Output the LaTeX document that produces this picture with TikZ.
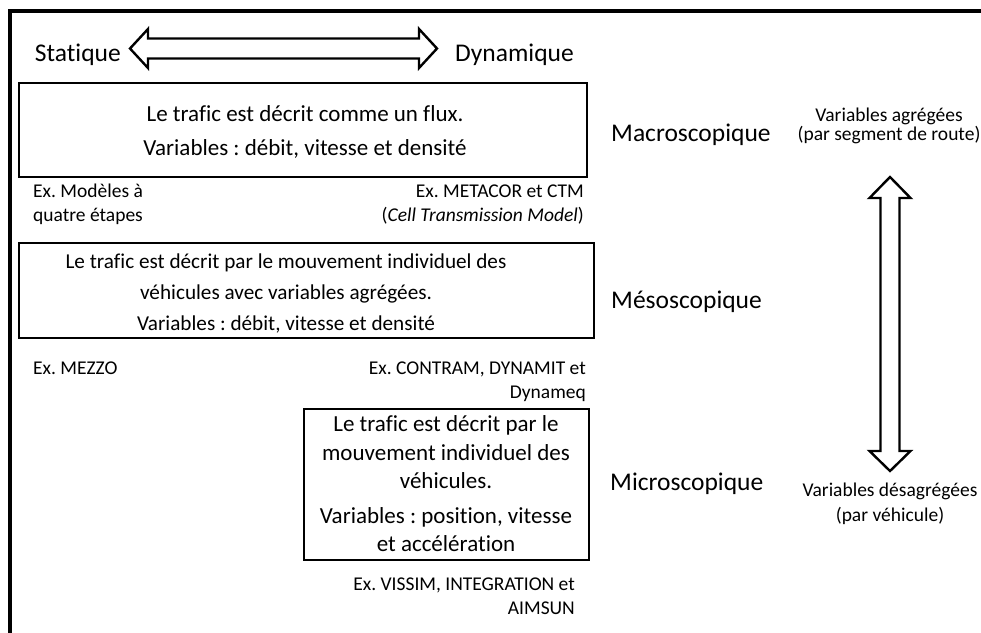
\documentclass[tikz,border=0pt]{standalone}
\usepackage{fontspec}
\setmainfont{Carlito}[Ligatures=NoCommon]
\frenchspacing
\begin{document}
\begin{tikzpicture}[x=1pt,y=-1pt,
  boxline/.style={draw, line width=2pt, inner sep=0pt},
  fatarrow/.style={draw, line width=2.4pt, fill=white, line join=miter},
  big/.style={font=\fontsize{25.5}{30}\selectfont, inner sep=0pt},
  body/.style={font=\fontsize{23}{28}\selectfont, inner sep=0pt, anchor=base},
  bodysmall/.style={font=\fontsize{21.2}{26}\selectfont, inner sep=0pt, anchor=base},
  small/.style={font=\fontsize{19.5}{24}\selectfont, inner sep=0pt},
]
\useasboundingbox (0,0) rectangle (981,632);

% outer frame (left and top edges)
\draw[line width=3.3pt] (10,640) -- (10,11) -- (990,11);

% static <-> dynamic axis
\draw[fatarrow] (130,48.5) -- (148,29) -- (148,38.5) -- (419,38.5) -- (419,29)
  -- (437,48.5) -- (419,68) -- (419,58.5) -- (148,58.5) -- (148,68) -- cycle;
\node[big, anchor=base east] (stat) at (121,61) {Statique};
\node[big, anchor=base west] (dyn) at (455,61) {Dynamique};

% macroscopic level
\node[boxline, minimum width=568, minimum height=94] (macro) at (303,130) {};
\node[body] (macroA) at (305,121) {Le trafic est décrit comme un flux.};
\node[body] (macroB) at (305,155) {Variables : débit, vitesse et densité};
\node[small, anchor=base west] (exmacroA) at (33,197) {Ex. Modèles à};
\node[small, anchor=base west] (exmacroB) at (33,221) {quatre étapes};
\node[small, anchor=base east] (exmacroC) at (584,197) {Ex. METACOR et CTM};
\node[small, anchor=base east] (exmacroD) at (584,221) {(\textit{Cell Transmission Model})};
\node[big, anchor=base west] (lmacro) at (611,141) {Macroscopique};

% mesoscopic level
\node[boxline, minimum width=575, minimum height=95] (meso) at (306.5,290.5) {};
\node[bodysmall] (mesoA) at (286,268) {Le trafic est décrit par le mouvement individuel des};
\node[bodysmall] (mesoB) at (286,299) {véhicules avec variables agrégées.};
\node[bodysmall] (mesoC) at (286,330) {Variables : débit, vitesse et densité};
\node[small, anchor=base west] (exmesoA) at (33,374) {Ex. MEZZO};
\node[small, anchor=base east] (exmesoB) at (586,374) {Ex. CONTRAM, DYNAMIT et};
\node[small, anchor=base east] (exmesoC) at (586,398) {Dynameq};
\node[big, anchor=base west] (lmeso) at (611,308) {Mésoscopique};

% microscopic level
\node[boxline, minimum width=285, minimum height=151] (micro) at (446.5,484.5) {};
\node[body] (microA) at (446,431) {Le trafic est décrit par le};
\node[body] (microB) at (446,460) {mouvement individuel des};
\node[body] (microC) at (446,488) {véhicules.};
\node[body] (microD) at (446,523) {Variables : position, vitesse};
\node[body] (microE) at (446,551) {et accélération};
\node[small, anchor=base east] (exmicroA) at (575,590) {Ex. VISSIM, INTEGRATION et};
\node[small, anchor=base east] (exmicroB) at (575,614) {AIMSUN};
\node[big, anchor=base west] (lmicro) at (610,490) {Microscopique};

% aggregation axis
\node[small, anchor=base] (aggA) at (889,121) {Variables agrégées};
\node[small, anchor=base] (aggB) at (889,140) {(par segment de route)};
\draw[fatarrow] (890,177) -- (910.5,198) -- (899.5,198) -- (899.5,451) -- (910.5,451)
  -- (890,471) -- (869.5,451) -- (880.5,451) -- (880.5,198) -- (869.5,198) -- cycle;
\node[small, anchor=base] (disA) at (890,496) {Variables désagrégées};
\node[small, anchor=base] (disB) at (890,521) {(par véhicule)};
\end{tikzpicture}
\end{document}
